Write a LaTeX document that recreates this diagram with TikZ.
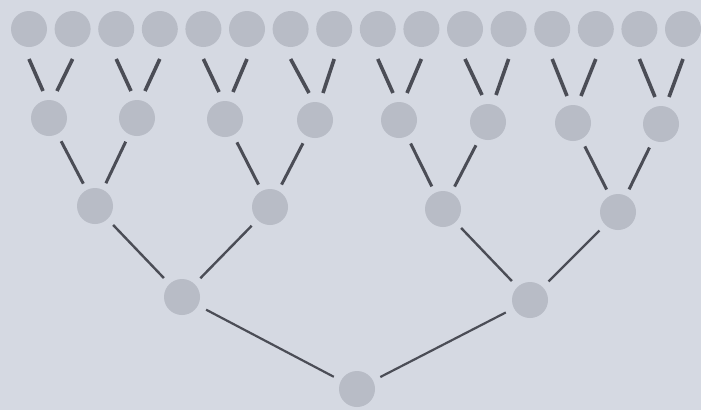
\documentclass[tikz,border=0pt]{standalone}
\usetikzlibrary{calc}
\definecolor{bgc}{HTML}{D5D9E2}
\definecolor{nodec}{HTML}{B8BCC6}
\definecolor{linec}{HTML}{4B4D56}
\begin{document}
\begin{tikzpicture}[x=1pt,y=-1pt,
  dot/.style={circle,fill=nodec,draw=none,minimum size=36pt,inner sep=0pt},
  e1/.style={draw=linec,line width=3.6pt},
  e2/.style={draw=linec,line width=3pt,shorten <=8pt,shorten >=7pt},
  e3/.style={draw=linec,line width=2.4pt,shorten <=8pt,shorten >=8pt},
  e4/.style={draw=linec,line width=2.2pt,shorten <=9pt,shorten >=8pt}]
\fill[bgc] (0,0) rectangle (701,410);
\useasboundingbox (0,0) rectangle (701,410);
% leaves
\foreach \i in {1,...,16}{
  \pgfmathsetmacro{\xx}{29+(\i-1)*43.6}
  \node[dot] (L\i) at (\xx,29) {};
}
% level 2
\node[dot] (M1) at (49,118) {};
\node[dot] (M2) at (137,118) {};
\node[dot] (M3) at (225,119) {};
\node[dot] (M4) at (315,120) {};
\node[dot] (M5) at (399,120) {};
\node[dot] (M6) at (488,122) {};
\node[dot] (M7) at (573,123) {};
\node[dot] (M8) at (661,124) {};
% level 3
\node[dot] (N1) at (95,206) {};
\node[dot] (N2) at (270,207) {};
\node[dot] (N3) at (443,209) {};
\node[dot] (N4) at (618,212) {};
% level 4
\node[dot] (P1) at (182,297) {};
\node[dot] (P2) at (530,300) {};
% root
\node[dot] (R) at (357,389) {};
% edges
\foreach \m [evaluate=\m as \a using int(2*\m-1), evaluate=\m as \b using int(2*\m)] in {1,...,8}{
  \draw[e1] ($(L\a.center)+(0,30)$) -- ($(M\m.center)+(-6,-27)$);
  \draw[e1] ($(L\b.center)+(0,30)$) -- ($(M\m.center)+(8,-27)$);
}
\foreach \n [evaluate=\n as \a using int(2*\n-1), evaluate=\n as \b using int(2*\n)] in {1,...,4}{
  \draw[e2] (M\a) -- (N\n);
  \draw[e2] (M\b) -- (N\n);
}
\draw[e3] (N1) -- (P1);
\draw[e3] (N2) -- (P1);
\draw[e3] (N3) -- (P2);
\draw[e3] (N4) -- (P2);
\draw[e4] (P1) -- (R);
\draw[e4] (P2) -- (R);
\end{tikzpicture}
\end{document}
